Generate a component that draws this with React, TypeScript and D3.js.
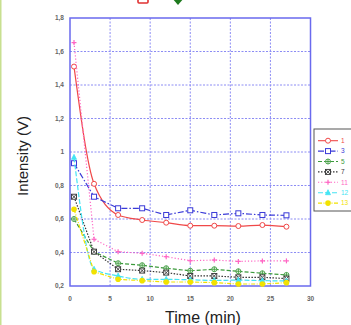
import React from "react";
import * as d3 from "d3";

// time points (min)
const times = [0.5, 3, 6, 9, 12, 15, 18, 21, 24, 27];

// intensity (V) for each sample
const s1 = [1.51, 0.81, 0.624, 0.594, 0.578, 0.56, 0.56, 0.558, 0.564, 0.554];
const s3 = [0.933, 0.733, 0.664, 0.664, 0.624, 0.652, 0.624, 0.634, 0.624, 0.622];
const s5 = [0.6, 0.405, 0.336, 0.324, 0.306, 0.291, 0.3, 0.288, 0.276, 0.266];
const s7 = [0.733, 0.405, 0.3, 0.292, 0.28, 0.26, 0.26, 0.252, 0.252, 0.244];
const s11 = [1.653, 0.479, 0.405, 0.395, 0.375, 0.351, 0.355, 0.347, 0.35, 0.35];
const s12 = [0.968, 0.3, 0.26, 0.24, 0.24, 0.237, 0.233, 0.235, 0.232, 0.23];
const s13 = [0.658, 0.285, 0.24, 0.232, 0.224, 0.224, 0.22, 0.212, 0.212, 0.22];

const seriesNames = ["1", "3", "5", "7", "11", "12", "13"];
const seriesValues = [s1, s3, s5, s7, s11, s12, s13];

const xTicks = [0, 5, 10, 15, 20, 25, 30];
const yTicks = [0.2, 0.4, 0.6, 0.8, 1, 1.2, 1.4, 1.6, 1.8];

const styles = [
  { color: "#f04848", dash: "", marker: "circle", smooth: true },
  { color: "#3a3ad8", dash: "6,2,1.5,2", marker: "square", smooth: false },
  { color: "#3c9a3c", dash: "4,2", marker: "star", smooth: false },
  { color: "#333333", dash: "1.5,1.5", marker: "xbox", smooth: false },
  { color: "#ff66c4", dash: "1.2,2", marker: "plus", smooth: false },
  { color: "#44e4f4", dash: "5,2", marker: "triangle", smooth: true },
  { color: "#f2e200", dash: "4,1.5,1,1.5", marker: "dot", smooth: false },
];

function Marker({ type, cx, cy, color }: { type: string; cx: number; cy: number; color: string }) {
  const r = 2.5;
  switch (type) {
    case "circle":
      return <circle cx={cx} cy={cy} r={r} fill="white" stroke={color} strokeWidth={1} />;
    case "square":
      return <rect x={cx - r} y={cy - r} width={2 * r} height={2 * r} fill="white" stroke={color} strokeWidth={1} />;
    case "star":
      return (
        <g stroke={color} strokeWidth={0.9}>
          <circle cx={cx} cy={cy} r={r} fill="white" />
          <line x1={cx - r} y1={cy} x2={cx + r} y2={cy} />
          <line x1={cx} y1={cy - r} x2={cx} y2={cy + r} />
        </g>
      );
    case "xbox":
      return (
        <g stroke={color} strokeWidth={0.9}>
          <rect x={cx - r} y={cy - r} width={2 * r} height={2 * r} fill="white" />
          <line x1={cx - r} y1={cy - r} x2={cx + r} y2={cy + r} />
          <line x1={cx - r} y1={cy + r} x2={cx + r} y2={cy - r} />
        </g>
      );
    case "plus":
      return (
        <g stroke={color} strokeWidth={1.2}>
          <line x1={cx - r} y1={cy} x2={cx + r} y2={cy} />
          <line x1={cx} y1={cy - r} x2={cx} y2={cy + r} />
        </g>
      );
    case "triangle":
      return (
        <path
          d={`M${cx},${cy - r - 0.5}L${cx + r},${cy + r - 0.5}L${cx - r},${cy + r - 0.5}Z`}
          fill={color}
          stroke={color}
          strokeWidth={0.8}
        />
      );
    default:
      return <circle cx={cx} cy={cy} r={r + 0.3} fill={color} />;
  }
}

export default function App() {
  const W = 351;
  const H = 325;
  const x = d3.scaleLinear().domain([0, 30]).range([70, 310.5]);
  const y = d3.scaleLinear().domain([0.2, 1.8]).range([286, 18]);
  const fmt = (v: number) => String(+v.toFixed(1)).replace(".", ",");

  return (
    <svg width={W} height={H} style={{ position: "absolute", left: 0, top: 0, background: "white" }}>
      <rect x={0} y={0} width={1.5} height={H} fill="#c8e090" />
      {/* cropped icons at the top */}
      <rect x={138} y={-3} width={10} height={6} fill="white" stroke="#e03030" strokeWidth={1.6} rx={1} />
      <path d="M172,-2L178,-8L184,-2L178,5Z" fill="#1e7a1e" />

      {/* grid */}
      <g stroke="#8c8cf4" strokeWidth={1} strokeDasharray="2,1.5">
        {xTicks.slice(1, -1).map((t) => (
          <line key={"gx" + t} x1={x(t)} x2={x(t)} y1={y(1.8)} y2={y(0.2)} />
        ))}
        {yTicks.slice(1, -1).map((t) => (
          <line key={"gy" + t} x1={x(0)} x2={x(30)} y1={y(t)} y2={y(t)} />
        ))}
      </g>
      <rect x={x(0)} y={y(1.8)} width={x(30) - x(0)} height={y(0.2) - y(1.8)} fill="none" stroke="#6a6aee" strokeWidth={1.5} />

      {/* series */}
      {seriesValues.map((vals, i) => {
        const st = styles[i];
        const line = d3
          .line<number>()
          .x((_, j) => x(times[j]))
          .y((v) => y(v))
          .curve(st.smooth ? d3.curveMonotoneX : d3.curveLinear);
        return (
          <g key={seriesNames[i]}>
            <path d={line(vals) || ""} fill="none" stroke={st.color} strokeWidth={1.2} strokeDasharray={st.dash} />
            {vals.map((v, j) => (
              <Marker key={j} type={st.marker} cx={x(times[j])} cy={y(v)} color={st.color} />
            ))}
          </g>
        );
      })}

      {/* tick labels */}
      <g fontFamily="Liberation Sans, Arial, sans-serif" fontSize={6.5} fill="#666" fontWeight="bold">
        {yTicks.map((t) => (
          <text key={"ty" + t} x={64} y={y(t) + 2.3} textAnchor="end">
            {fmt(t)}
          </text>
        ))}
        {xTicks.map((t) => (
          <text key={"tx" + t} x={x(t)} y={301} textAnchor="middle">
            {t}
          </text>
        ))}
      </g>

      {/* axis titles */}
      <text
        transform={`translate(28,156) rotate(-90)`}
        textAnchor="middle"
        fontFamily="Liberation Sans, Arial, sans-serif"
        fontSize={15}
        fill="#222"
      >
        Intensity (V)
      </text>
      <text x={203} y={323} textAnchor="middle" fontFamily="Liberation Sans, Arial, sans-serif" fontSize={16} fill="#222">
        Time (min)
      </text>

      {/* legend */}
      <rect x={314} y={129} width={45} height={82} fill="white" stroke="#555" strokeWidth={1} />
      {seriesNames.map((n, i) => {
        const st = styles[i];
        const ly = 140.7 + i * 10.4;
        return (
          <g key={"lg" + n}>
            <line x1={318} x2={338} y1={ly} y2={ly} stroke={st.color} strokeWidth={1.1} strokeDasharray={st.dash} />
            <Marker type={st.marker} cx={328} cy={ly} color={st.color} />
            <text x={341} y={ly + 2.3} fontFamily="Liberation Sans, Arial, sans-serif" fontSize={6.5} fill={st.color}>
              {n}
            </text>
          </g>
        );
      })}
    </svg>
  );
}
